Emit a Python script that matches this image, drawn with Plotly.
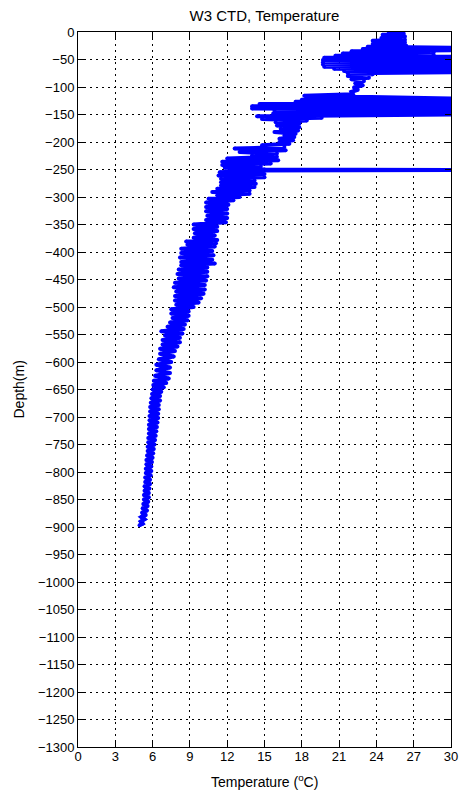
import plotly.graph_objects as go

# --- data (depth in m, temperature in degC) ---
# surface mixed layer
depth_surface = [-1, -3, -5, -8, -11, -14, -16, -19, -22, -25]
temp_surface = [25.0, 26.2, 24.5, 26.3, 24.4, 26.3, 23.7, 26.3, 23.7, 26.4]

# first band of readings that run off the right edge
depth_band1 = [-27, -29, -31, -33, -35, -37, -39, -41, -43, -45, -47, -49, -51, -53,
               -55, -57, -59, -61, -63, -65, -67, -69, -71, -73]
temp_band1 = [23.3, 30.5, 22.9, 30.5, 22.0, 28.6, 21.3, 28.6, 20.7, 30.5, 19.8, 30.5, 19.7, 30.5,
              19.7, 30.5, 19.7, 30.5, 19.8, 30.5, 20.6, 30.5, 21.4, 30.5]

# neck between the two bands
depth_neck = [-75, -77, -80, -83, -86, -89, -93, -97, -101, -105, -109, -113, -116]
temp_neck = [21.7, 23.7, 21.7, 23.4, 22.0, 23.0, 22.3, 22.9, 22.2, 22.5, 22.0, 22.1, 18.2]

# second band
depth_band2 = [-121, -123, -125, -127, -129, -131, -133, -135, -137, -139, -141, -143,
               -146, -148, -150, -153]
temp_band2 = [30.5, 18.0, 30.5, 17.5, 30.5, 14.6, 30.5, 14.0, 30.5, 14.0, 30.5, 15.8,
              30.5, 15.7, 30.5, 14.4]

# upper thermocline
depth_upper = [-156, -158, -161, -164, -167, -170, -173, -176, -179, -182, -185, -188,
               -191, -194, -197, -200, -203, -206, -209, -212, -215, -218, -221, -224,
               -227, -230, -233, -236, -239, -242, -245, -247]
temp_upper = [19.6, 14.8, 18.4, 15.9, 17.8, 16.0, 17.8, 16.3, 17.7, 15.8, 17.5, 16.6,
              17.4, 16.2, 17.3, 16.2, 17.0, 14.8, 16.6, 12.6, 16.7, 13.0, 16.0, 14.0,
              16.0, 12.0, 16.1, 11.6, 15.5, 11.6, 14.7, 11.8]

# single spike near -250 m
depth_spike = [-250, -251, -252]
temp_spike = [15.0, 30.5, 14.0]

# main thermocline
depth_main = [-255, -258, -261, -264, -267, -270, -273, -276, -279, -282, -285, -288,
              -291, -294, -297, -300, -303, -306, -310, -314, -318, -322, -326, -330,
              -334, -338, -342, -346, -350, -354, -358, -362, -366, -370, -374, -378,
              -381, -384, -387, -390, -394, -398, -402, -406, -410, -414, -418, -421,
              -424, -428, -432, -436, -440, -444, -448, -452, -456, -460, -464, -468,
              -472, -476, -480, -484, -488, -492, -496, -500, -504, -508, -512, -516,
              -520, -524, -528, -532, -536, -540, -544, -548, -552, -556, -560, -564,
              -568, -572, -576, -580, -585, -590, -595, -600, -605, -610, -615, -620,
              -625, -630]
temp_main = [11.4, 15.0, 11.3, 15.0, 11.5, 14.2, 11.5, 14.3, 11.5, 14.2, 11.2, 13.8,
             10.8, 13.8, 11.2, 13.0, 10.5, 12.5, 10.3, 12.1, 10.3, 12.0, 10.3, 12.0,
             10.4, 12.0, 10.3, 11.9, 9.3, 11.2, 9.3, 11.2, 9.4, 11.0, 9.3, 11.2,
             8.7, 11.1, 8.8, 11.0, 8.3, 10.8, 8.3, 10.9, 8.2, 10.8, 8.3, 11.0,
             8.3, 10.4, 8.1, 10.4, 8.0, 10.4, 8.1, 10.3, 7.8, 10.2, 7.7, 10.2,
             7.9, 10.1, 7.8, 9.9, 7.8, 9.7, 7.9, 9.3, 7.5, 8.9, 7.5, 8.9,
             7.6, 8.8, 7.4, 8.6, 7.2, 8.5, 6.7, 8.4, 7.0, 8.2, 6.8, 8.2,
             6.8, 8.0, 6.6, 7.8, 6.6, 7.7, 6.5, 7.5, 6.3, 7.4, 6.3, 7.4,
             6.2, 7.3]

# deep water
depth_deep = [-634, -638, -642, -646, -650, -654, -658, -662, -666, -670, -674, -678,
              -682, -686, -690, -694, -698, -702, -706, -710, -714, -718, -722, -726,
              -730, -734, -738, -742, -746, -750, -754, -758, -762, -766, -770, -774,
              -778, -782, -786, -790, -794, -798, -802, -806, -810, -814, -818, -822,
              -826, -830, -834, -838, -842, -846, -850, -854, -858, -862, -866, -870,
              -874, -878, -882, -886, -890, -894, -897]
temp_deep = [6.1, 7.1, 6.05, 6.9, 6.0, 6.7, 5.95, 6.6, 5.9, 6.6, 5.85, 6.5,
             5.8, 6.5, 5.8, 6.45, 5.75, 6.45, 5.75, 6.4, 5.7, 6.35, 5.7, 6.3,
             5.7, 6.25, 5.65, 6.2, 5.65, 6.15, 5.6, 6.1, 5.6, 6.05, 5.55, 6.0,
             5.5, 5.95, 5.5, 5.9, 5.45, 5.9, 5.45, 5.85, 5.4, 5.8, 5.4, 5.8,
             5.35, 5.75, 5.35, 5.7, 5.3, 5.7, 5.3, 5.65, 5.25, 5.6, 5.2, 5.55,
             5.15, 5.45, 5.1, 5.35, 5.05, 5.2, 4.95]

x_ticks = [0, 3, 6, 9, 12, 15, 18, 21, 24, 27, 30]
y_ticks = [0, -50, -100, -150, -200, -250, -300, -350, -400, -450, -500, -550, -600,
           -650, -700, -750, -800, -850, -900, -950, -1000, -1050, -1100, -1150,
           -1200, -1250, -1300]

depth_m = (depth_surface + depth_band1 + depth_neck + depth_band2 + depth_upper
           + depth_spike + depth_main + depth_deep)
temp_c = (temp_surface + temp_band1 + temp_neck + temp_band2 + temp_upper
          + temp_spike + temp_main + temp_deep)
assert len(depth_m) == len(temp_c)

FONT = "Arial, 'Liberation Sans', sans-serif"

fig = go.Figure()
fig.add_trace(go.Scatter(
    x=temp_c, y=depth_m, mode="lines+markers",
    line=dict(color="#0000FF", width=4),
    marker=dict(color="#0000FF", size=4, line=dict(width=0)),
    showlegend=False, hoverinfo="x+y", cliponaxis=True,
))

axis_common = dict(
    showline=True, linecolor="black", linewidth=1, mirror="ticks",
    ticks="inside", ticklen=6, tickwidth=1, tickcolor="black",
    showgrid=True, gridcolor="black", gridwidth=1, griddash="2px,4px",
    zeroline=False, automargin=False,
    tickfont=dict(family=FONT, size=13, color="black"),
)

W, H = 459, 795
fig.update_layout(
    width=W, height=H,
    margin=dict(l=78, r=8, t=32, b=48),
    paper_bgcolor="white", plot_bgcolor="white",
    font=dict(family=FONT, size=13, color="black"),
    title=dict(text="W3 CTD, Temperature", x=0.5, xref="paper", xanchor="center",
               y=1 - 16 / H, yref="container", yanchor="middle", automargin=False,
               font=dict(family=FONT, size=15, color="black")),
    xaxis=dict(range=[0, 30], tickvals=x_ticks, ticklabelstandoff=-3, **axis_common),
    yaxis=dict(range=[-1300, 0], tickvals=y_ticks, **axis_common),
    annotations=[
        dict(text="Temperature (<sup>o</sup>C)", xref="paper", yref="paper",
             x=0.5, y=-(781.5 - 747) / 715, xanchor="center", yanchor="middle",
             showarrow=False, font=dict(family=FONT, size=14, color="black")),
        dict(text="Depth(m)", xref="paper", yref="paper",
             x=(18 - 78) / 373, y=0.5, xanchor="center", yanchor="middle",
             textangle=-90, showarrow=False,
             font=dict(family=FONT, size=14, color="black")),
    ],
)

fig.write_html(
    "out.html",
    config={"displayModeBar": False},
    post_script="document.body.style.margin='0';"
                "document.documentElement.style.overflow='hidden';",
)
